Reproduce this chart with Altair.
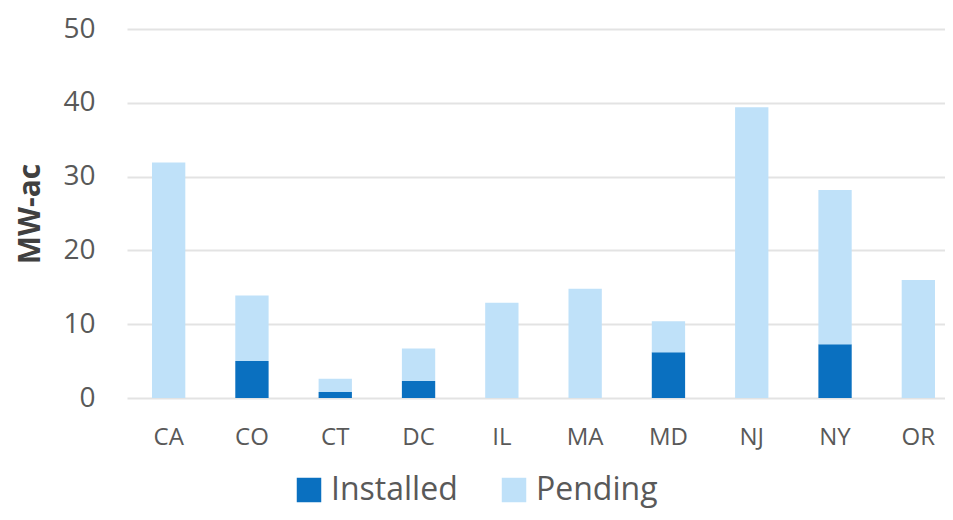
import altair as alt
import pandas as pd

states = ["CA", "CO", "CT", "DC", "IL", "MA", "MD", "NJ", "NY", "OR"]
installed = [0.0, 5.0, 0.8, 2.3, 0.0, 0.0, 6.2, 0.0, 7.3, 0.0]
pending = [31.9, 8.9, 1.8, 4.4, 12.9, 14.8, 4.2, 39.4, 20.9, 16.0]
series = ["Installed", "Pending"]
colors = ["#0A70C0", "#BFE1F9"]

rows = []
for s, i, p in zip(states, installed, pending):
    rows.append({"state": s, "status": "Installed", "value": i, "ord": 0})
    rows.append({"state": s, "status": "Pending", "value": p, "ord": 1})
df = pd.DataFrame(rows)

font = "Open Sans"
grey = "#595959"

chart = alt.Chart(df).mark_bar().encode(
    x=alt.X("state:N", sort=states, title=None,
            scale=alt.Scale(paddingInner=0.6, paddingOuter=0.3, range=[0, 833]),
            axis=alt.Axis(labelAngle=0, labelFontSize=24, labelColor=grey, labelFont=font,
                          ticks=False, domain=False, labelPadding=27, grid=False)),
    y=alt.Y("value:Q", stack="zero", title="MW-ac",
            scale=alt.Scale(domain=[0, 50]),
            axis=alt.Axis(values=[0, 10, 20, 30, 40, 50], labelFontSize=28, labelColor=grey,
                          labelFont=font, ticks=False, domain=False, labelPadding=32,
                          gridColor="#E3E3E3", gridWidth=2,
                          titleFont=font, titleFontSize=30, titleFontWeight="bold",
                          titleColor="#404040", titlePadding=17)),
    color=alt.Color("status:N", scale=alt.Scale(domain=series, range=colors),
                    legend=alt.Legend(title=None, orient="none", direction="horizontal",
                                      legendX=166, legendY=445, symbolType="square",
                                      symbolSize=600, symbolStrokeWidth=0, labelFontSize=32,
                                      labelFont=font, labelColor=grey, labelOffset=6,
                                      columnPadding=40)),
    order=alt.Order("ord:Q", sort="ascending"),
).properties(
    width=818, height=369,
    autosize=alt.AutoSizeParams(type="none"),
    padding={"left": 119, "top": 21, "right": 0, "bottom": 114},
).configure_view(stroke=None)

chart.save("out.html", embed_options={"renderer": "svg", "actions": False})
